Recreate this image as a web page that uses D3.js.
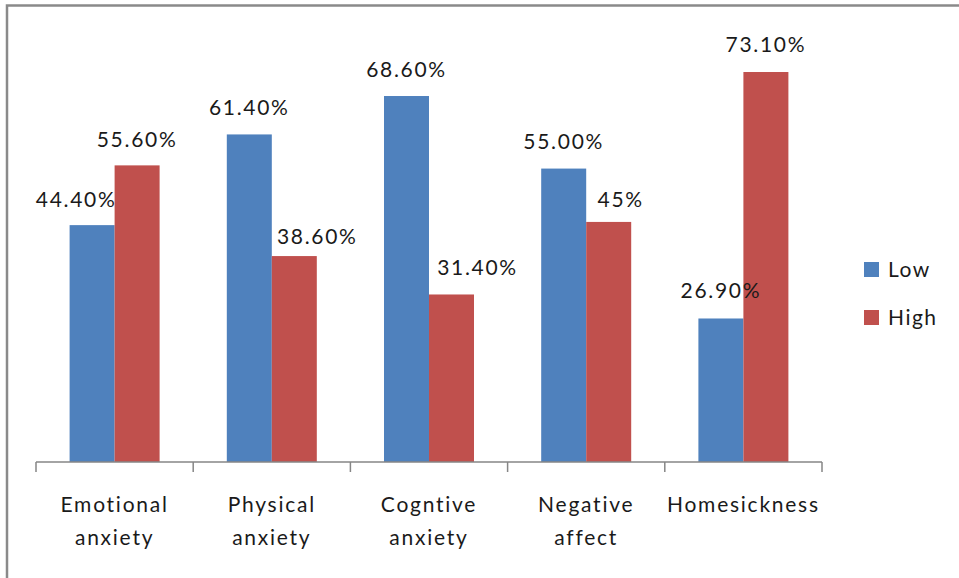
<!DOCTYPE html>
<html>
<head>
<meta charset="utf-8">
<script src="https://cdn.jsdelivr.net/npm/d3@7"></script>
<style>
  html, body { margin: 0; padding: 0; background: #fff; }
  svg { display: block; }
  text { font-family: Lato, "Open Sans", sans-serif; fill: #1a1a1a; }
</style>
</head>
<body>
<svg id="chart" width="959" height="578"></svg>
<script>
// ---- data ----
const categories = ["Emotional anxiety", "Physical anxiety", "Cogntive anxiety", "Negative affect", "Homesickness"];
const seriesNames = ["Low", "High"];
const lowValues = [44.4, 61.4, 68.6, 55.0, 26.9];
const highValues = [55.6, 38.6, 31.4, 45.0, 73.1];
const lowLabels = ["44.40%", "61.40%", "68.60%", "55.00%", "26.90%"];
const highLabels = ["55.60%", "38.60%", "31.40%", "45%", "73.10%"];
const colors = ["#4F81BD", "#C0504D"];

// label nudges (layout only, as in the original picture)
const lowLabelDx = [-16, 0, 0, 0, 0];
const highLabelDx = [0, 23, 26, 12, 0];
const lowLabelDy = [-18, -19, -19, -20, -20];
const highLabelDy = [-18, -12, -19, -15, -20];

const svg = d3.select("#chart");

// chart border
svg.append("rect")
  .attr("x", 7).attr("y", 5.5)
  .attr("width", 1000).attr("height", 1000)
  .attr("fill", "none").attr("stroke", "#8a8a8a").attr("stroke-width", 2.5);

const plot = { left: 36, right: 822, bottom: 462, top: 35.2 };

const x0 = d3.scaleBand().domain(categories).range([plot.left, plot.right]).paddingInner(0).paddingOuter(0);
const groupFrac = 90 / 157.2;
const x1 = d3.scaleBand().domain(seriesNames)
  .range([x0.bandwidth() * (1 - groupFrac) / 2, x0.bandwidth() * (1 + groupFrac) / 2]).padding(0);
const y = d3.scaleLinear().domain([0, 80]).range([plot.bottom, plot.top]);

const color = d3.scaleOrdinal().domain(seriesNames).range(colors);

const rows = categories.map((c, i) => ({
  cat: c,
  vals: [
    { s: "Low", v: lowValues[i], label: lowLabels[i], dx: lowLabelDx[i], dy: lowLabelDy[i] },
    { s: "High", v: highValues[i], label: highLabels[i], dx: highLabelDx[i], dy: highLabelDy[i] }
  ]
}));

const groups = svg.append("g").selectAll("g").data(rows).join("g")
  .attr("transform", d => `translate(${x0(d.cat)},0)`);

groups.selectAll("rect").data(d => d.vals).join("rect")
  .attr("x", d => x1(d.s))
  .attr("y", d => y(d.v))
  .attr("width", x1.bandwidth())
  .attr("height", d => y(0) - y(d.v))
  .attr("fill", d => color(d.s));

groups.selectAll("text.val").data(d => d.vals).join("text")
  .attr("class", "val")
  .attr("x", d => x1(d.s) + x1.bandwidth() / 2 + d.dx)
  .attr("y", d => y(d.v) + d.dy)
  .attr("text-anchor", "middle")
  .style("font-size", "21px")
  .style("letter-spacing", "1.7px")
  .text(d => d.label);

// x axis: baseline + boundary ticks
const axisG = svg.append("g").attr("transform", `translate(0,${plot.bottom})`);
const xAxis = d3.axisBottom(x0).tickSize(0).tickPadding(0);
axisG.call(xAxis);
axisG.select(".domain").attr("stroke", "#868686").attr("stroke-width", 1.5)
  .attr("d", `M${plot.left},0H${plot.right}`);
const bounds = categories.map(c => x0(c)).concat([x0.range()[1]]);
axisG.selectAll("line.bound").data(bounds).join("line")
  .attr("class", "bound")
  .attr("x1", d => d).attr("x2", d => d)
  .attr("y1", 0).attr("y2", 10)
  .attr("stroke", "#868686").attr("stroke-width", 1.5);

axisG.selectAll(".tick text").each(function (d) {
  const t = d3.select(this);
  const words = d.split(" ");
  t.text(null).attr("y", 0).attr("dy", null)
    .style("font-size", "21px").style("letter-spacing", "1.75px")
    .attr("fill", "#1a1a1a");
  words.forEach((w, i) => {
    t.append("tspan").attr("x", 0).attr("y", 50 + i * 33).text(w);
  });
});
axisG.selectAll(".tick text").attr("font-family", null);
axisG.attr("font-family", null).attr("font-size", null);

// legend
const legend = svg.append("g");
const legendY = d3.scalePoint().domain(seriesNames).range([262, 310]);
legend.selectAll("rect").data(seriesNames).join("rect")
  .attr("x", 864).attr("y", d => legendY(d))
  .attr("width", 15).attr("height", 15)
  .attr("fill", d => color(d));
legend.selectAll("text").data(seriesNames).join("text")
  .attr("x", 888).attr("y", d => legendY(d) + 15)
  .style("font-size", "21px").style("letter-spacing", "1.5px")
  .text(d => d);
</script>
</body>
</html>
